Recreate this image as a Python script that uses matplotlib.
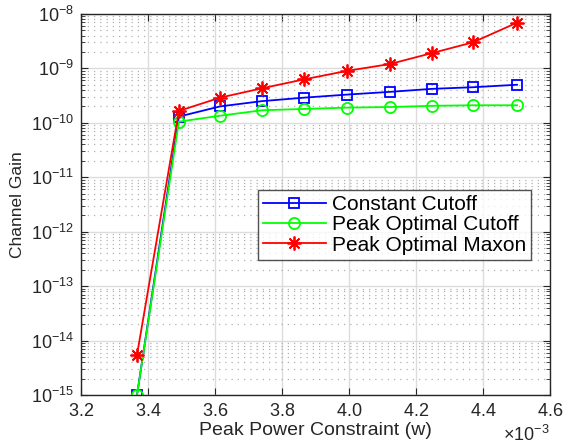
import numpy as np
import matplotlib
matplotlib.use("Agg")
import matplotlib.pyplot as plt
from matplotlib.ticker import MultipleLocator, LogLocator, ScalarFormatter, NullFormatter

plt.rcParams['font.family'] = ['Liberation Sans', 'DejaVu Sans']
plt.rcParams['mathtext.fontset'] = 'custom'
plt.rcParams['mathtext.rm'] = 'Liberation Sans'
plt.rcParams['mathtext.it'] = 'Liberation Sans'
plt.rcParams['mathtext.default'] = 'regular'

# data
peak_power = [3.367e-3, 3.492e-3, 3.615e-3, 3.74e-3, 3.867e-3,
              3.995e-3, 4.122e-3, 4.247e-3, 4.37e-3, 4.502e-3]
constant_cutoff = [1.0e-15, 1.3e-10, 2.0e-10, 2.5e-10, 2.9e-10,
                   3.3e-10, 3.7e-10, 4.2e-10, 4.5e-10, 5.0e-10]
peak_opt_cutoff = [1.0e-15, 1.05e-10, 1.35e-10, 1.7e-10, 1.8e-10,
                   1.9e-10, 1.95e-10, 2.05e-10, 2.1e-10, 2.1e-10]
peak_opt_maxon = [5.5e-15, 1.65e-10, 2.9e-10, 4.3e-10, 6.3e-10,
                  9.0e-10, 1.2e-9, 1.9e-9, 3.0e-9, 6.9e-9]

fig = plt.figure(figsize=(5.71, 4.48), dpi=100)
ax = fig.add_axes([0.142, 0.118, 0.821, 0.851])

ax.semilogy(peak_power, constant_cutoff, '-s', color=(0, 0, 1), lw=1.3,
            ms=7, mfc='none', mew=1.3, label='Constant Cutoff')
ax.semilogy(peak_power, peak_opt_cutoff, '-o', color=(0, 1, 0), lw=1.3,
            ms=8, mfc='none', mew=1.3, label='Peak Optimal Cutoff')
ax.semilogy(peak_power, peak_opt_maxon, '-', marker=(8, 2, 0), color=(1, 0, 0),
            lw=1.3, ms=10, mew=1.3, label='Peak Optimal Maxon')

ax.set_xlim(3.2e-3, 4.6e-3)
ax.set_ylim(1e-15, 1e-8)
ax.xaxis.set_major_locator(MultipleLocator(0.2e-3))
fmt = ScalarFormatter(useMathText=True)
fmt.set_powerlimits((-2, 2))
ax.xaxis.set_major_formatter(fmt)
ax.yaxis.set_major_locator(LogLocator(base=10, numticks=20))
ax.yaxis.set_minor_locator(LogLocator(base=10, subs=np.arange(2, 10), numticks=20))
ax.yaxis.set_minor_formatter(NullFormatter())

ax.grid(True, which='major', color='#dcdcdc', lw=1.0, ls='-')
ax.grid(True, which='minor', axis='y', color='#b0b0b0', lw=0.9, ls=(0, (1, 4)))
ax.set_axisbelow(True)

ax.tick_params(which='both', direction='in', top=True, right=True,
               labelsize=13, color='#262626', labelcolor='#262626')
ax.tick_params(which='major', length=5, width=0.8)
ax.tick_params(which='minor', length=3, width=0.6)
ax.tick_params(axis='x', pad=6)
ax.tick_params(axis='y', pad=5)
ax.xaxis.get_offset_text().set_fontsize(13)
ax.xaxis.get_offset_text().set_color('#262626')
for s in ax.spines.values():
    s.set_color('#262626')
    s.set_linewidth(1.0)

ax.set_xlabel('Peak Power Constraint (w)', fontsize=14, color='#262626', labelpad=1)
ax.set_ylabel('Channel Gain', fontsize=12.5, color='#262626', labelpad=4)

leg = ax.legend(loc='upper left', bbox_to_anchor=(0.377, 0.538), fontsize=15,
                frameon=True, fancybox=False, edgecolor='#262626',
                borderpad=0.25, labelspacing=0.06, handlelength=3.0,
                handletextpad=0.3, borderaxespad=0)
leg.get_frame().set_linewidth(1.0)

fig.savefig('out.png', dpi=100)
